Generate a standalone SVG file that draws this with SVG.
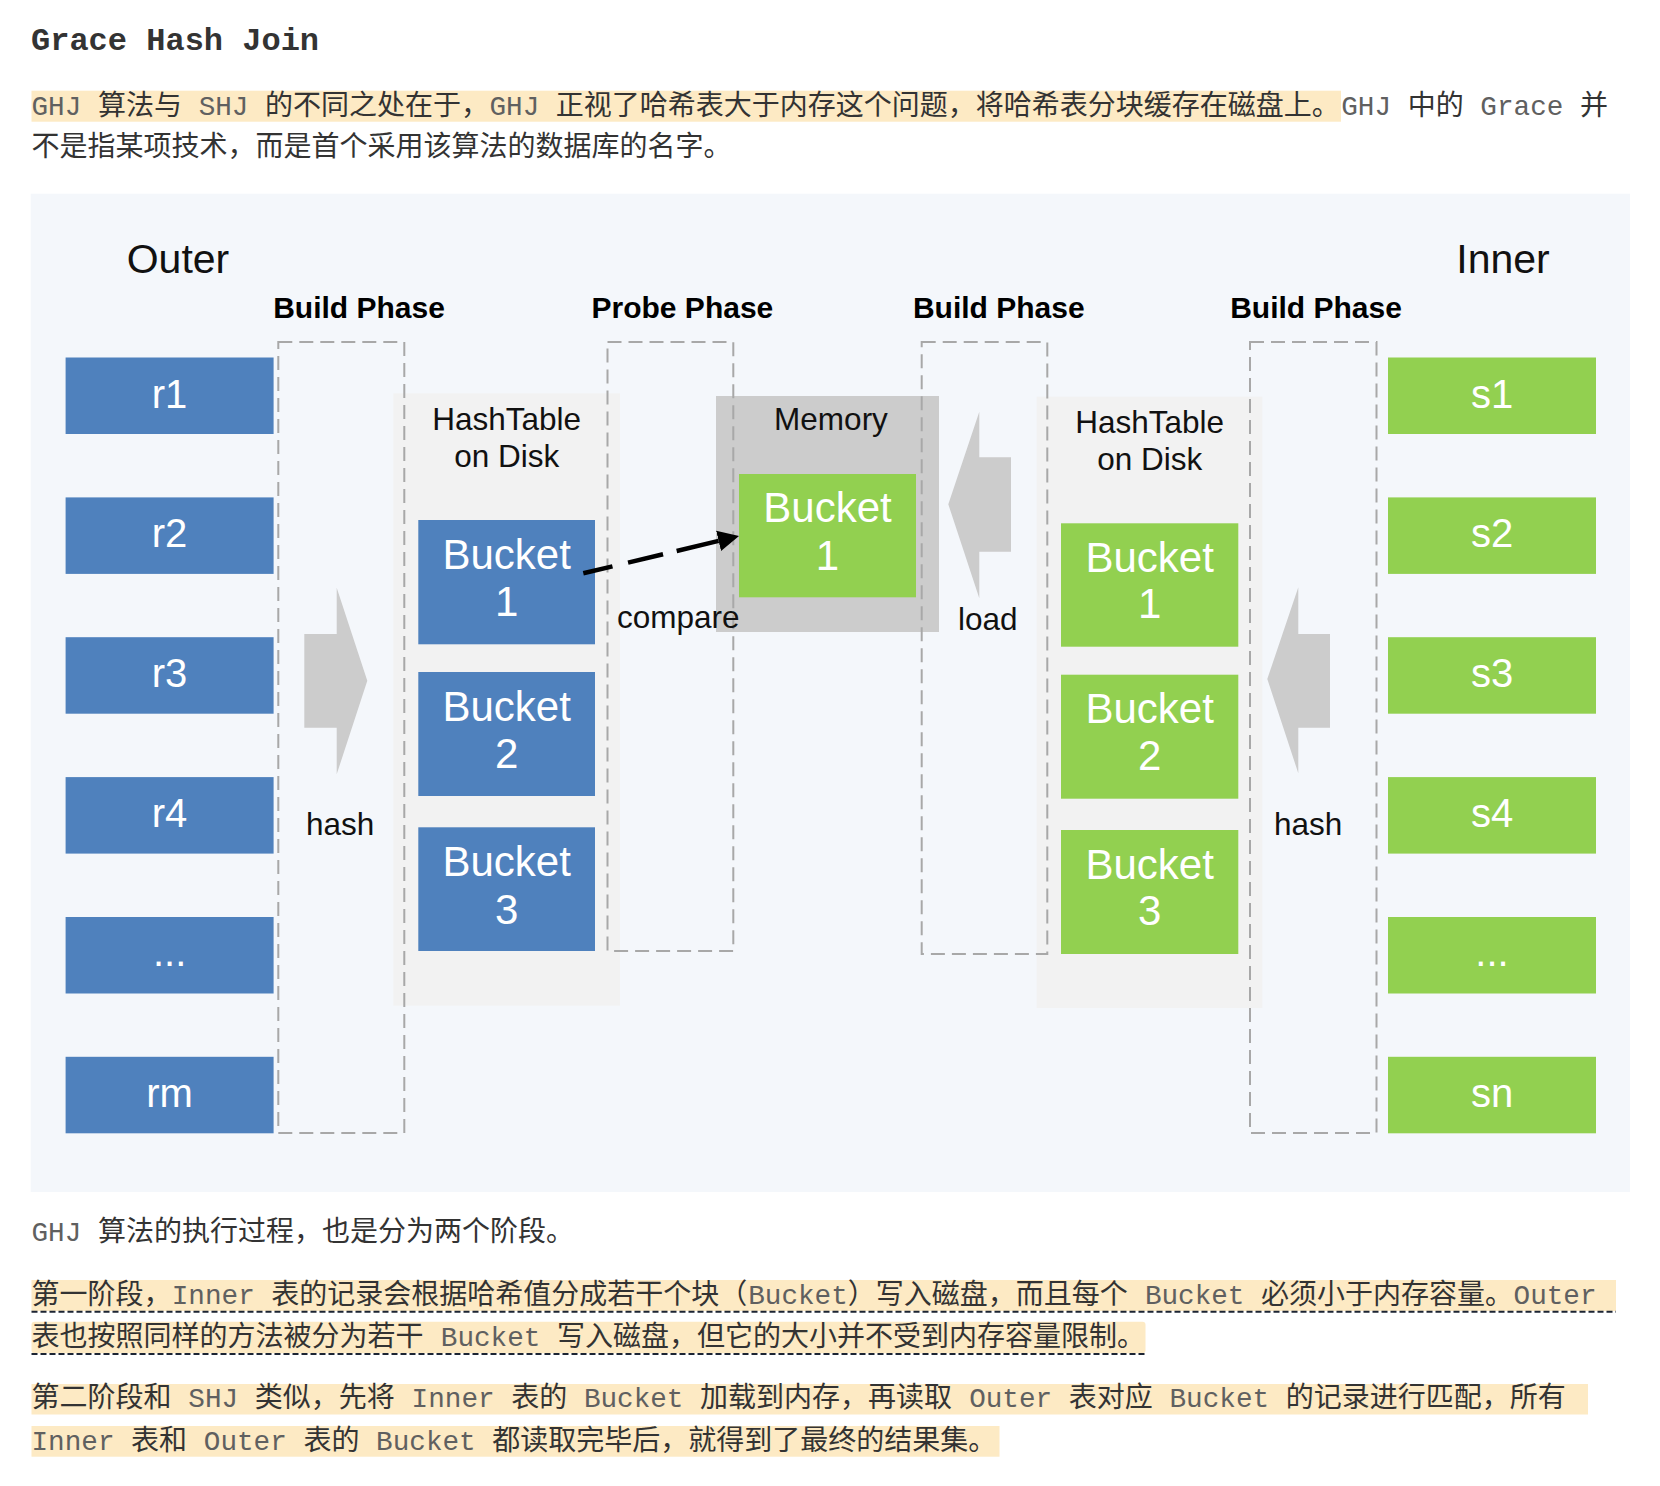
<svg xmlns="http://www.w3.org/2000/svg" width="1660" height="1486" viewBox="0 0 1660 1486">
<defs>
<style>
.m{font-family:"Liberation Mono",monospace;font-size:27.67px;fill:#606060}
.c{font-family:"Noto Sans CJK SC","Noto Sans CJK JP",sans-serif;font-size:28px;fill:#333}
.hl{fill:#fdeac4}
.ul{stroke:#1c2433;stroke-width:2;stroke-dasharray:6 3;fill:none}
.dash{fill:none;stroke:#a8a8a8;stroke-width:2;stroke-dasharray:14 7}
.blue{fill:#4f81bd}
.green{fill:#92d050}
.wt{font-family:"Liberation Sans",Arial,sans-serif;font-size:40px;fill:#fff;text-anchor:middle}
.bk{font-size:42px}
.lb{font-family:"Liberation Sans",Arial,sans-serif;font-size:31.5px;fill:#111}
.lbm{font-family:"Liberation Sans",Arial,sans-serif;font-size:31.5px;fill:#111;text-anchor:middle}
.ph{font-family:"Liberation Sans",Arial,sans-serif;font-size:30px;font-weight:bold;fill:#000;text-anchor:middle}
.big{font-family:"Liberation Sans",Arial,sans-serif;font-size:41px;fill:#111;text-anchor:middle}
.arr{fill:#cccccc}
.cont{fill:#f2f2f2}
</style>
<marker id="ah" markerUnits="userSpaceOnUse" markerWidth="22" markerHeight="22" viewBox="0 -11 22 22" refX="0" refY="0" orient="auto"><path d="M0,-10.5 L21,0 L0,10.5 Z" fill="#000"/></marker>
</defs>
<rect width="1660" height="1486" fill="#fff"/>

<g id="heading">
<text x="31" y="50" style="font-family:'Liberation Mono',monospace;font-size:32px;font-weight:bold;fill:#333">Grace Hash Join</text>
</g>

<g id="intro">
<rect class="hl" x="31.5" y="90.7" width="1309.5" height="31"/>
<text y="114.5"><tspan class="m" x="31.5">GHJ</tspan><tspan class="c" x="97.9">算法与</tspan><tspan class="m" x="198.65">SHJ</tspan><tspan class="c" x="265.05">的不同之处在于，</tspan><tspan class="m" x="489.45">GHJ</tspan><tspan class="c" x="555.85">正视了哈希表大于内存这个问题，将哈希表分块缓存在磁盘上。</tspan><tspan class="m" x="1341.25">GHJ</tspan><tspan class="c" x="1407.65">中的</tspan><tspan class="m" x="1480.35">Grace</tspan><tspan class="c" x="1579.95">并</tspan></text>
<text class="c" x="31.5" y="156">不是指某项技术，而是首个采用该算法的数据库的名字。</text>
</g>

<g id="diagram">
<rect x="30.7" y="193.7" width="1599.3" height="998.3" fill="#f4f7fb"/>
<text class="big" x="178" y="273">Outer</text>
<text class="big" x="1503" y="273">Inner</text>
<text class="ph" x="359" y="318">Build Phase</text>
<text class="ph" x="682.4" y="318">Probe Phase</text>
<text class="ph" x="998.8" y="318">Build Phase</text>
<text class="ph" x="1316" y="318">Build Phase</text>

<g id="hashtable-left">
<rect class="cont" x="393.3" y="393.3" width="226.7" height="612.4"/>
<text class="lbm" x="506.7" y="430">HashTable</text>
<text class="lbm" x="506.7" y="467">on Disk</text>
</g>
<g id="hashtable-right">
<rect class="cont" x="1036.7" y="396.7" width="225.6" height="611.3"/>
<text class="lbm" x="1149.7" y="433.3">HashTable</text>
<text class="lbm" x="1149.7" y="470">on Disk</text>
</g>
<g id="memory">
<rect x="716" y="396" width="223" height="236" fill="#cccccc"/>
<text class="lbm" x="831" y="430">Memory</text>
</g>

<g id="outer-records">
<g id="r1"><rect class="blue" x="65.6" y="357.5" width="208" height="76.5"/><text class="wt" x="169.6" y="407.5">r1</text></g>
<g id="r2"><rect class="blue" x="65.6" y="497.4" width="208" height="76.5"/><text class="wt" x="169.6" y="547.4">r2</text></g>
<g id="r3"><rect class="blue" x="65.6" y="637.2" width="208" height="76.5"/><text class="wt" x="169.6" y="687.2">r3</text></g>
<g id="r4"><rect class="blue" x="65.6" y="777.1" width="208" height="76.5"/><text class="wt" x="169.6" y="827.1">r4</text></g>
<g id="r-more"><rect class="blue" x="65.6" y="917" width="208" height="76.5"/><text class="wt" x="169.6" y="966">...</text></g>
<g id="rm"><rect class="blue" x="65.6" y="1056.8" width="208" height="76.5"/><text class="wt" x="169.6" y="1106.8">rm</text></g>
</g>

<g id="inner-records">
<g id="s1"><rect class="green" x="1388" y="357.5" width="208" height="76.5"/><text class="wt" x="1492" y="407.5">s1</text></g>
<g id="s2"><rect class="green" x="1388" y="497.4" width="208" height="76.5"/><text class="wt" x="1492" y="547.4">s2</text></g>
<g id="s3"><rect class="green" x="1388" y="637.2" width="208" height="76.5"/><text class="wt" x="1492" y="687.2">s3</text></g>
<g id="s4"><rect class="green" x="1388" y="777.1" width="208" height="76.5"/><text class="wt" x="1492" y="827.1">s4</text></g>
<g id="s-more"><rect class="green" x="1388" y="917" width="208" height="76.5"/><text class="wt" x="1492" y="966">...</text></g>
<g id="sn"><rect class="green" x="1388" y="1056.8" width="208" height="76.5"/><text class="wt" x="1492" y="1106.8">sn</text></g>
</g>

<g id="left-buckets">
<g id="lb1"><rect class="blue" x="418.3" y="520" width="176.7" height="124.3"/><text class="wt bk" x="506.7" y="569">Bucket</text><text class="wt bk" x="506.7" y="616.3">1</text></g>
<g id="lb2"><rect class="blue" x="418.3" y="672" width="176.7" height="124"/><text class="wt bk" x="506.7" y="721">Bucket</text><text class="wt bk" x="506.7" y="768.3">2</text></g>
<g id="lb3"><rect class="blue" x="418.3" y="827.3" width="176.7" height="123.7"/><text class="wt bk" x="506.7" y="876.3">Bucket</text><text class="wt bk" x="506.7" y="923.6">3</text></g>
</g>

<g id="right-buckets">
<g id="rb1"><rect class="green" x="1061" y="523.3" width="177.3" height="123.4"/><text class="wt bk" x="1149.7" y="571.7">Bucket</text><text class="wt bk" x="1149.7" y="618.3">1</text></g>
<g id="rb2"><rect class="green" x="1061" y="674.7" width="177.3" height="124"/><text class="wt bk" x="1149.7" y="723.2">Bucket</text><text class="wt bk" x="1149.7" y="770">2</text></g>
<g id="rb3"><rect class="green" x="1061" y="830" width="177.3" height="124"/><text class="wt bk" x="1149.7" y="878.5">Bucket</text><text class="wt bk" x="1149.7" y="925.3">3</text></g>
</g>

<g id="mem-bucket"><rect class="green" x="739" y="474" width="177" height="123.3"/><text class="wt bk" x="827.5" y="522.3">Bucket</text><text class="wt bk" x="827.5" y="570">1</text></g>

<g id="phases">
<rect class="dash" x="278.3" y="342" width="126" height="791"/>
<rect class="dash" x="607.5" y="342" width="125.8" height="609"/>
<rect class="dash" x="921.7" y="342" width="125.6" height="612"/>
<rect class="dash" x="1250" y="342" width="126.5" height="791"/>
</g>

<g id="connectors">
<polygon class="arr" points="304.3,634 336.7,634 336.7,587.7 367.3,680.7 336.7,774.3 336.7,727.7 304.3,727.7"/>
<polygon class="arr" points="1011,457.3 979.3,457.3 979.3,411.7 948.3,504.3 979.3,598.3 979.3,551.7 1011,551.7"/>
<polygon class="arr" points="1330,634 1298.3,634 1298.3,587.3 1267.3,679 1298.3,773.3 1298.3,727.7 1330,727.7"/>
<line x1="583.3" y1="573.3" x2="718.6" y2="540.9" stroke="#000" stroke-width="4.5" stroke-dasharray="30 16 36 14 45" marker-end="url(#ah)"/>
<text class="lb" x="306" y="835">hash</text>
<text class="lb" x="1274" y="835">hash</text>
<text class="lb" x="617" y="628.3">compare</text>
<text class="lb" x="958" y="630">load</text>
</g>
</g>

<g id="body">
<text y="1241"><tspan class="m" x="31.5">GHJ</tspan><tspan class="c" x="97.9">算法的执行过程，也是分为两个阶段。</tspan></text>

<rect class="hl" x="31.5" y="1280" width="1584.5" height="31"/>
<line class="ul" x1="31.5" y1="1311.7" x2="1616" y2="1311.7"/>
<rect class="hl" x="31.5" y="1321.7" width="1114" height="31.6" rx="3"/>
<line class="ul" x1="31.5" y1="1354" x2="1145.5" y2="1354"/>
<text y="1303.5"><tspan class="c" x="31.5">第一阶段，</tspan><tspan class="m" x="171.75">Inner</tspan><tspan class="c" x="271.35">表的记录会根据哈希值分成若干个块（</tspan><tspan class="m" x="748.2">Bucket</tspan><tspan class="c" x="847.8">）写入磁盘，而且每个</tspan><tspan class="m" x="1144.9">Bucket</tspan><tspan class="c" x="1261.1">必须小于内存容量。</tspan><tspan class="m" x="1513.55">Outer</tspan></text>
<text y="1345.5"><tspan class="c" x="31.5">表也按照同样的方法被分为若干</tspan><tspan class="m" x="440.8">Bucket</tspan><tspan class="c" x="557">写入磁盘，但它的大小并不受到内存容量限制。</tspan></text>

<rect class="hl" x="31.5" y="1384" width="1556.5" height="30.5"/>
<rect class="hl" x="31.5" y="1426" width="968" height="30.7"/>
<text y="1407"><tspan class="c" x="31.5">第二阶段和</tspan><tspan class="m" x="188.35">SHJ</tspan><tspan class="c" x="254.75">类似，先将</tspan><tspan class="m" x="411.6">Inner</tspan><tspan class="c" x="511.2">表的</tspan><tspan class="m" x="583.9">Bucket</tspan><tspan class="c" x="700.1">加载到内存，再读取</tspan><tspan class="m" x="969.15">Outer</tspan><tspan class="c" x="1068.75">表对应</tspan><tspan class="m" x="1169.5">Bucket</tspan><tspan class="c" x="1285.7">的记录进行匹配，所有</tspan></text>
<text y="1449.5"><tspan class="m" x="31.5">Inner</tspan><tspan class="c" x="131.1">表和</tspan><tspan class="m" x="203.8">Outer</tspan><tspan class="c" x="303.4">表的</tspan><tspan class="m" x="376.1">Bucket</tspan><tspan class="c" x="492.3">都读取完毕后，就得到了最终的结果集。</tspan></text>
</g>
</svg>
